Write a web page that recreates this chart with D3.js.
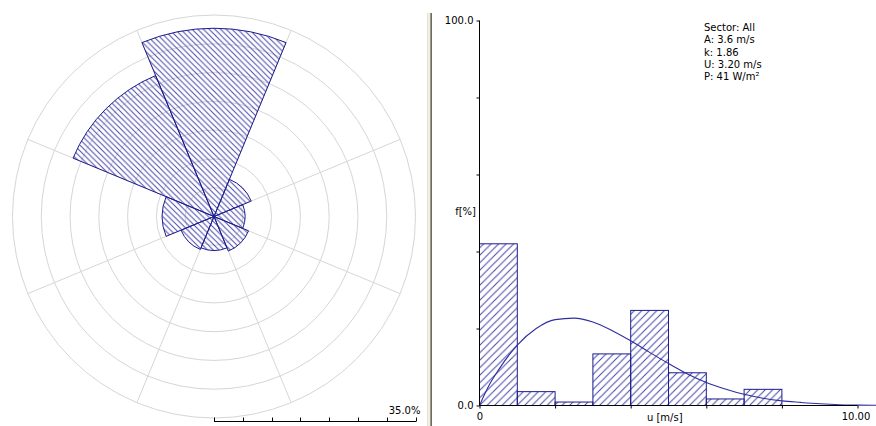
<!DOCTYPE html>
<html><head><meta charset="utf-8">
<script src="https://cdn.jsdelivr.net/npm/d3@7/dist/d3.min.js"></script>
<style>html,body{margin:0;padding:0;background:#fff;overflow:hidden}svg{display:block}
text{font-family:"DejaVu Sans",sans-serif;font-size:10px;fill:#000}</style>
</head><body>
<svg id="c" width="876" height="426"></svg>
<script>
// ---- data ----
const roseDirs = ["N","NE","E","SE","S","SW","W","NW"];
const roseFreq = [32.7, 7.0, 5.4, 6.5, 5.9, 6.2, 9.0, 26.5];
const roseRings = [5,10,15,20,25,30,35];
const roseScaleLabel = "35.0%";

const binStart = [0,1,2,3,4,5,6,7];
const binFreq  = [42.0, 3.6, 0.9, 13.4, 24.7, 8.5, 1.7, 4.2];

const curveU = [0,0.25,0.5,1,1.5,2,2.5,3,3.5,4,4.5,5,5.5,6,6.5,7,7.5,8,8.5,9,9.5,10,10.5];
const curveF = [0,5.2,9.2,15.7,20.0,22.3,22.7,21.7,19.5,16.8,13.8,10.9,8.2,6.0,4.3,2.9,1.9,1.2,0.8,0.45,0.2,0.1,0.05];

const yTicks = [0,20,40,60,80,100];
const yTickLabels = {0:"0.0",100:"100.0"};
const xTicks = [0,2,4,6,8,10];
const xTickLabels = {0:"0",10:"10.00"};
const xTitle = "u [m/s]";
const yTitle = "f[%]";
const stats = ["Sector: All","A: 3.6 m/s","k: 1.86","U: 3.20 m/s","P: 41 W/m²"];

// ---- drawing ----
const svg = d3.select("#c");
const defs = svg.append("defs");
function hatch(id, s, dir, color){
  const p = defs.append("pattern").attr("id",id).attr("patternUnits","userSpaceOnUse")
    .attr("width",s).attr("height",s);
  const d = dir==="\\"
    ? `M-1,-1L${s+1},${s+1}M${s-1},-1L${s+1},1M-1,${s-1}L1,${s+1}`
    : `M-1,${s+1}L${s+1},-1M-1,1L1,-1M${s-1},${s+1}L${s+1},${s-1}`;
  p.append("path").attr("d",d).attr("stroke",color).attr("stroke-width",1).attr("fill","none");
}
hatch("hRose", 5.7, "\\", "#4848aa");
hatch("hHist", 7.5, "/", "#4848aa");

const navy = "#1c1c8e";
const grid = "#d6d6d6";

// wind rose
const cx = 214, cy = 216.5;
const r = d3.scaleLinear().domain([0,35]).range([0,201.5]);
const rose = svg.append("g").attr("transform",`translate(${cx},${cy})`);
rose.selectAll("circle.ring").data(roseRings).join("circle")
  .attr("r",d=>r(d)).attr("fill","none").attr("stroke",grid).attr("stroke-width",1);
const toRad = Math.PI/180;
rose.selectAll("line.rad").data(d3.range(8)).join("line")
  .attr("x1",0).attr("y1",0)
  .attr("x2",i=>r(35)*Math.sin((22.5+45*i)*toRad))
  .attr("y2",i=>-r(35)*Math.cos((22.5+45*i)*toRad))
  .attr("stroke",grid).attr("stroke-width",1);
const arc = d3.arc().innerRadius(0);
rose.selectAll("path.sec").data(roseFreq).join("path")
  .attr("d",(v,i)=>arc({outerRadius:r(v),startAngle:(i*45-22.5)*toRad,endAngle:(i*45+22.5)*toRad}))
  .attr("fill","url(#hRose)").attr("stroke",navy).attr("stroke-width",1);

// scale bar
const sb = svg.append("g");
const sbY = 421.5;
sb.append("line").attr("x1",cx+r(0)).attr("x2",cx+r(35)+0.5).attr("y1",sbY).attr("y2",sbY).attr("stroke","#000");
sb.selectAll("line.t").data([0].concat(roseRings)).join("line")
  .attr("x1",d=>Math.round(cx+r(d))+0.5).attr("x2",d=>Math.round(cx+r(d))+0.5)
  .attr("y1",sbY).attr("y2",sbY-4).attr("stroke","#000");
sb.append("text").attr("x",cx+r(35)+5).attr("y",413.5).attr("text-anchor","end").text(roseScaleLabel);

// divider
const dv = svg.append("g");
[["#e4e0cc",427],["#f6f4ea",428],["#efece0",429],["#9a9888",430],["#6e6c60",431]].forEach(([c,x])=>{
  dv.append("rect").attr("x",x).attr("y",13).attr("width",1).attr("height",413).attr("fill",c);
});

// histogram
const x = d3.scaleLinear().domain([0,10]).range([479.5,857.5]);
const y = d3.scaleLinear().domain([0,100]).range([405.5,20.5]);
const h = svg.append("g");
h.selectAll("rect.bar").data(binFreq).join("rect")
  .attr("x",(v,i)=>x(binStart[i])).attr("width",(v,i)=>x(binStart[i]+1)-x(binStart[i]))
  .attr("y",v=>y(v)).attr("height",v=>y(0)-y(v))
  .attr("fill","url(#hHist)").attr("stroke",navy).attr("stroke-width",1);

const line = d3.line().x((u,i)=>x(u)).y((u,i)=>y(curveF[i])).curve(d3.curveMonotoneX);
h.append("path").attr("d",line(curveU)).attr("fill","none").attr("stroke","#2e2ea0").attr("stroke-width",1.1);

// axes
const yAxis = d3.axisLeft(y).tickValues(yTicks).tickSize(3).tickFormat(d=>yTickLabels[d]||"");
const ga = svg.append("g").attr("transform",`translate(${x(0)},0)`).call(yAxis);
const xAxis = d3.axisBottom(x).tickValues(xTicks).tickSize(3).tickFormat(d=>xTickLabels[d]||"");
const gx = svg.append("g").attr("transform",`translate(0,${y(0)})`).call(xAxis);
[ga,gx].forEach(g=>{
  g.selectAll(".domain").attr("stroke","#000").attr("d", g===ga ? `M0,${y(100)}V${y(0)}` : `M${x(0)},0H${x(10)}`);
  g.selectAll(".tick line").attr("stroke","#000");
  g.selectAll(".tick text").style("font-family","DejaVu Sans").style("font-size","10px").attr("fill","#000");
});
ga.selectAll(".tick text").attr("x",-6);
gx.selectAll(".tick text").attr("y",7);
gx.selectAll(".tick").filter(d=>d===10).select("text").attr("dx",-2);

svg.append("text").attr("x",x(0)+(x(10)-x(0))*0.49).attr("y",421).attr("text-anchor","middle").text(xTitle);
svg.append("text").attr("x",476).attr("y",215).attr("text-anchor","end").text(yTitle);

svg.append("g").selectAll("text").data(stats).join("text")
  .attr("x",704).attr("y",(d,i)=>31+i*12.3).text(d=>d);
</script>
</body></html>
